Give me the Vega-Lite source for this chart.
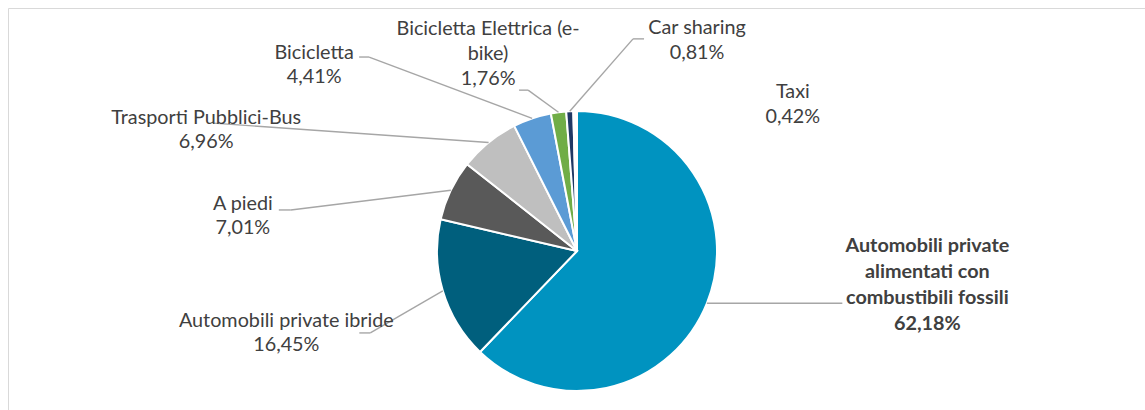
{
  "$schema": "https://vega.github.io/schema/vega-lite/v6.json",
  "width": 1138,
  "height": 486,
  "autosize": "none",
  "padding": {"left": 8, "top": 8, "right": 0, "bottom": 0},
  "background": "white",
  "config": {"view": {"stroke": "#d9d9d9", "strokeWidth": 1}},
  "data": {"values": [
    {"i": 0, "cat": "Automobili private alimentati con combustibili fossili", "label": "Automobili private\nalimentati con\ncombustibili fossili", "value": 62.18},
    {"i": 1, "cat": "Automobili private ibride", "label": "Automobili private ibride", "value": 16.45},
    {"i": 2, "cat": "A piedi", "label": "A piedi", "value": 7.01},
    {"i": 3, "cat": "Trasporti Pubblici-Bus", "label": "Trasporti Pubblici-Bus", "value": 6.96},
    {"i": 4, "cat": "Bicicletta", "label": "Bicicletta", "value": 4.41},
    {"i": 5, "cat": "Bicicletta Elettrica (e-bike)", "label": "Bicicletta Elettrica (e-\nbike)", "value": 1.76},
    {"i": 6, "cat": "Car sharing", "label": "Car sharing", "value": 0.81},
    {"i": 7, "cat": "Taxi", "label": "Taxi", "value": 0.42}
  ]},
  "transform": [
    {"window": [{"op": "sum", "field": "value", "as": "cum"}], "sort": [{"field": "i"}], "frame": [null, 0]},
    {"joinaggregate": [{"op": "sum", "field": "value", "as": "tot"}]},
    {"calculate": "2*PI*(datum.cum - datum.value/2)/datum.tot", "as": "mid"},
    {"calculate": "140*sin(datum.mid)", "as": "sx0"},
    {"calculate": "-140*cos(datum.mid)", "as": "sy0"},
    {"calculate": "datum.mid + PI/180*[-16.35,0.8,-19.7,-32.77,-36.02,-16.71,32.71,56.53][datum.i]", "as": "la"},
    {"calculate": "[352,302,336,390,322,216,242,261][datum.i]", "as": "lr"},
    {"calculate": "datum.lr*sin(datum.la)", "as": "lx"},
    {"calculate": "-datum.lr*cos(datum.la)", "as": "ly"},
    {"calculate": "datum.lx + [-85,84,48,7,55,40,-64,0][datum.i]", "as": "ex"},
    {"calculate": "datum.ly + [18,0,-6,-7,-8,36,-2,0][datum.i]", "as": "ey"},
    {"calculate": "datum.ex + [0,-11,-12,0,-10,-9,11,0][datum.i]", "as": "tx"},
    {"calculate": "datum.label + '\\n' + replace(format(datum.value, '.2f'), '.', ',') + '%'", "as": "txt"},
    {"calculate": "length(split(datum.txt, '\\n'))", "as": "nl"},
    {"calculate": "datum.ly - (datum.nl - 1) / 2 * (datum.i == 0 ? 26 : 24.8)", "as": "ty"}
  ],
  "layer": [
    {
      "mark": {"type": "arc", "outerRadius": 140, "stroke": "white", "strokeWidth": 2},
      "encoding": {
        "theta": {"field": "value", "type": "quantitative", "stack": true},
        "order": {"field": "i", "type": "quantitative", "sort": "ascending"},
        "color": {
          "field": "cat", "type": "nominal", "legend": null,
          "scale": {
            "domain": ["Automobili private alimentati con combustibili fossili", "Automobili private ibride", "A piedi", "Trasporti Pubblici-Bus", "Bicicletta", "Bicicletta Elettrica (e-bike)", "Car sharing", "Taxi"],
            "range": ["#0093c0", "#005f7d", "#595959", "#bfbfbf", "#5b9bd5", "#70ad47", "#203864", "#ffffff"]
          }
        }
      }
    },
    {
      "transform": [{"filter": "datum.i != 7"}],
      "mark": {"type": "rule", "color": "#a6a6a6", "strokeWidth": 1.4},
      "encoding": {
        "x": {"field": "sx0", "type": "quantitative", "axis": null, "scale": {"domain": [-569, 569], "nice": false, "zero": false}},
        "y": {"field": "sy0", "type": "quantitative", "axis": null, "scale": {"domain": [-243, 243], "nice": false, "zero": false, "reverse": true}},
        "x2": {"field": "ex"},
        "y2": {"field": "ey"}
      }
    },
    {
      "transform": [{"filter": "datum.i != 7 && datum.tx != datum.ex"}],
      "mark": {"type": "rule", "color": "#a6a6a6", "strokeWidth": 1.4},
      "encoding": {
        "x": {"field": "ex", "type": "quantitative", "axis": null, "scale": {"domain": [-569, 569], "nice": false, "zero": false}},
        "y": {"field": "ey", "type": "quantitative", "axis": null, "scale": {"domain": [-243, 243], "nice": false, "zero": false, "reverse": true}},
        "x2": {"field": "tx"},
        "y2": {"field": "ey"}
      }
    },
    {
      "transform": [{"filter": "datum.i != 0"}],
      "mark": {"type": "text", "align": "center", "baseline": "middle", "font": "Lato", "fontSize": 19.8, "color": "#404040", "lineBreak": "\n", "lineHeight": 24.8},
      "encoding": {
        "x": {"field": "lx", "type": "quantitative", "axis": null, "scale": {"domain": [-569, 569], "nice": false, "zero": false}},
        "y": {"field": "ty", "type": "quantitative", "axis": null, "scale": {"domain": [-243, 243], "nice": false, "zero": false, "reverse": true}},
        "text": {"field": "txt"}
      }
    },
    {
      "transform": [{"filter": "datum.i == 0"}],
      "mark": {"type": "text", "align": "center", "baseline": "middle", "font": "Lato", "fontSize": 19.8, "fontWeight": "bold", "color": "#404040", "lineBreak": "\n", "lineHeight": 26},
      "encoding": {
        "x": {"field": "lx", "type": "quantitative", "axis": null, "scale": {"domain": [-569, 569], "nice": false, "zero": false}},
        "y": {"field": "ty", "type": "quantitative", "axis": null, "scale": {"domain": [-243, 243], "nice": false, "zero": false, "reverse": true}},
        "text": {"field": "txt"}
      }
    }
  ]
}
